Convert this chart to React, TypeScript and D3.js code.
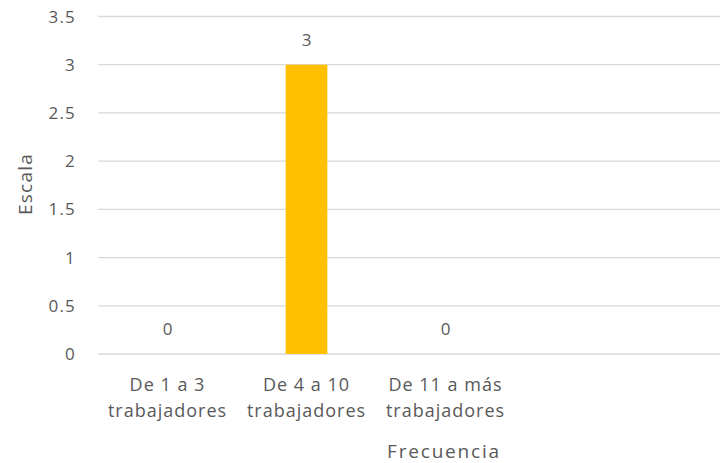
import React from "react";
import * as d3 from "d3";

const categories = ["De 1 a 3|trabajadores", "De 4 a 10|trabajadores", "De 11 a más|trabajadores"];
const values = [0, 3, 0];
const yTicks = [0, 0.5, 1, 1.5, 2, 2.5, 3, 3.5];
const yTitle = "Escala";
const xTitle = "Frecuencia";

const W = 720;
const H = 463;
const FONT = "'Open Sans', 'Segoe UI', sans-serif";
const TEXT = "#595959";

export default function App() {
  const x = d3
    .scaleBand<string>()
    .domain(categories)
    .range([98, 98 + 3 * 139])
    .paddingInner(0.7)
    .paddingOuter(0.35);
  const y = d3.scaleLinear().domain([0, 3.5]).range([354, 16.5]);
  const fmt = (v: number) => String(v);

  return (
    <svg
      width={W}
      height={H}
      style={{ position: "absolute", left: 0, top: 0, background: "#fff" }}
      fontFamily={FONT}
    >
      {yTicks.map((t) => (
        <g key={t}>
          <line x1={98} x2={720} y1={y(t)} y2={y(t)} stroke="#d9d9d9" strokeWidth={1.3} />
          <text x={76} y={y(t)} dy="0.36em" textAnchor="end" fontSize={17} fill={TEXT} letterSpacing={1.2}>
            {fmt(t)}
          </text>
        </g>
      ))}
      {categories.map((c, i) => {
        const cx = (x(c) ?? 0) + x.bandwidth() / 2;
        const lines = c.split("|");
        return (
          <g key={c}>
            {values[i] > 0 && (
              <rect
                x={x(c)}
                y={y(values[i])}
                width={x.bandwidth()}
                height={y(0) - y(values[i])}
                fill="#FFC000"
              />
            )}
            <text x={cx} y={y(values[i]) - 25} dy="0.36em" textAnchor="middle" fontSize={17} fill={TEXT}>
              {values[i]}
            </text>
            {lines.map((l, k) => (
              <text
                key={k}
                x={cx}
                y={391 + k * 26}
                textAnchor="middle"
                fontSize={18}
                fill={TEXT}
                letterSpacing={1}
              >
                {l}
              </text>
            ))}
          </g>
        );
      })}
      <text
        transform={`translate(31.5,184) rotate(-90)`}
        textAnchor="middle"
        fontSize={19}
        fill={TEXT}
        letterSpacing={1.2}
      >
        {yTitle}
      </text>
      <text x={444} y={458} textAnchor="middle" fontSize={19} fill={TEXT} letterSpacing={1.8}>
        {xTitle}
      </text>
    </svg>
  );
}
